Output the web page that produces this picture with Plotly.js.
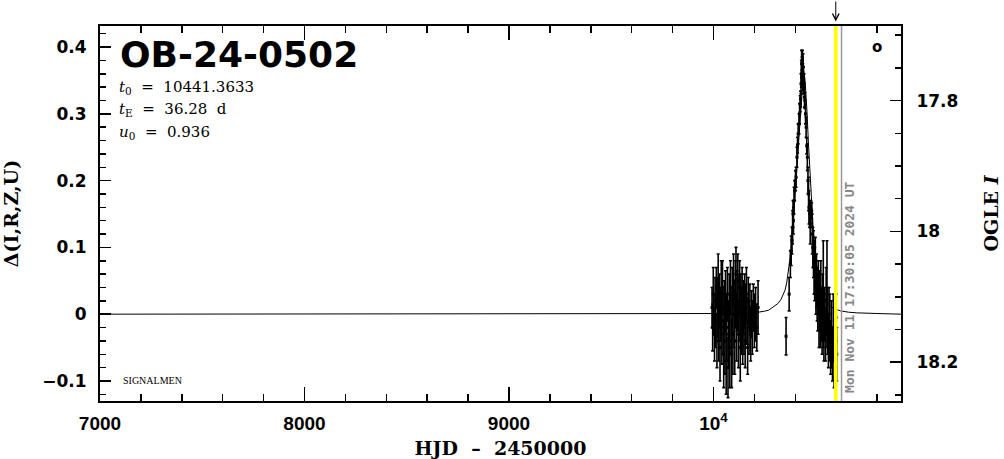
<!DOCTYPE html>
<html>
<head>
<meta charset="utf-8">
<script src="https://cdn.plot.ly/plotly-3.0.1.min.js"></script>
<style>html,body{margin:0;padding:0;background:#fff;}#chart{width:1004px;height:459px;}</style>
</head>
<body>
<div id="chart"></div>
<script>
// ---- data (HJD - 2450000, Delta(I,R,Z,U)) ----
const dataX = [
  9993, 9996, 9999, 10002, 10005, 10008, 10011, 10014, 10017, 10020,
  10023, 10026, 10029, 10032, 10035, 10038, 10041, 10044, 10047, 10050,
  10053, 10056, 10059, 10062, 10065, 10068, 10071, 10074, 10077, 10080,
  10083, 10086, 10089, 10092, 10095, 10098, 10101, 10104, 10107, 10110,
  10113, 10116, 10119, 10122, 10125, 10128, 10131, 10134, 10137, 10140,
  10143, 10146, 10149, 10152, 10155, 10158, 10161, 10164, 10167, 10170,
  10174, 10178, 10182, 10186, 10190, 10195, 10200, 10206, 10212, 10218,
  10355, 10370, 10376, 10380, 10384, 10387, 10389, 10391, 10394, 10397,
  10401, 10404, 10408, 10411, 10414, 10418, 10421, 10424, 10426, 10428,
  10430, 10431, 10433, 10435, 10437, 10438, 10440, 10443, 10445, 10447,
  10450, 10453, 10456, 10459, 10462, 10465, 10467, 10470, 10473, 10476,
  10480, 10483, 10486, 10489, 10492, 10495, 10498, 10501, 10504, 10507,
  10510, 10513, 10516, 10519, 10522, 10525, 10528, 10531, 10534, 10537,
  10540, 10544, 10548, 10551, 10555, 10558, 10562, 10565, 10569, 10573,
  10577, 10582, 10586, 10590, 10594, 10600, 10603
];
const dataY = [
  0.01, -0.02, 0.03, 0.00, -0.03, 0.02, -0.01, 0.04, -0.04, 0.01,
  0.05, -0.02, 0.02, -0.05, 0.00, 0.03, -0.03, 0.04, -0.01, -0.06,
  0.01, -0.04, 0.02, -0.07, -0.02, 0.03, -0.08, -0.03, 0.01, -0.05,
  0.04, -0.01, -0.06, 0.02, -0.03, 0.05, 0.00, -0.04, 0.03, 0.06,
  -0.02, 0.02, 0.05, -0.03, 0.01, 0.04, -0.05, 0.02, -0.01, 0.03,
  -0.03, 0.01, -0.02, 0.02, -0.04, 0.00, 0.03, -0.01, -0.05, 0.02,
  -0.02, 0.01, -0.03, 0.00, -0.02, 0.01, -0.01, 0.00, -0.02, 0.01,
  -0.033, 0.030, 0.075, 0.095, 0.110, 0.130, 0.150, 0.140, 0.170, 0.185,
  0.200, 0.205, 0.235, 0.253, 0.270, 0.285, 0.300, 0.315, 0.322, 0.345,
  0.360, 0.375, 0.365, 0.380, 0.355, 0.370, 0.350, 0.345, 0.325, 0.320,
  0.300, 0.280, 0.252, 0.235, 0.200, 0.180, 0.160, 0.150, 0.135, 0.150,
  0.155, 0.120, 0.100, 0.090, 0.070, 0.060, 0.080, 0.040, 0.050, 0.030,
  0.020, 0.040, 0.000, 0.020, -0.010, 0.030, 0.000, -0.020, 0.010, 0.030,
  -0.020, 0.000, -0.030, 0.020, 0.030, -0.010, -0.040, 0.000, -0.020, -0.050,
  -0.030, -0.060, -0.020, -0.070, -0.050, -0.005, -0.060
];
const dataErr = [
  0.030, 0.035, 0.040, 0.030, 0.040, 0.035, 0.040, 0.030, 0.040, 0.045,
  0.040, 0.050, 0.040, 0.050, 0.040, 0.050, 0.045, 0.040, 0.050, 0.050,
  0.040, 0.050, 0.045, 0.050, 0.050, 0.040, 0.045, 0.050, 0.050, 0.060,
  0.040, 0.050, 0.050, 0.050, 0.060, 0.040, 0.050, 0.050, 0.050, 0.040,
  0.050, 0.045, 0.040, 0.050, 0.050, 0.040, 0.050, 0.040, 0.050, 0.040,
  0.045, 0.040, 0.040, 0.040, 0.040, 0.045, 0.040, 0.035, 0.040, 0.035,
  0.040, 0.035, 0.040, 0.035, 0.040, 0.035, 0.040, 0.040, 0.035, 0.040,
  0.028, 0.025, 0.020, 0.022, 0.020, 0.025, 0.020, 0.020, 0.020, 0.015,
  0.015, 0.015, 0.015, 0.012, 0.015, 0.015, 0.015, 0.012, 0.012, 0.015,
  0.020, 0.020, 0.020, 0.015, 0.020, 0.020, 0.020, 0.015, 0.015, 0.012,
  0.015, 0.015, 0.012, 0.020, 0.020, 0.025, 0.025, 0.020, 0.030, 0.020,
  0.012, 0.030, 0.030, 0.035, 0.040, 0.040, 0.035, 0.040, 0.040, 0.040,
  0.045, 0.040, 0.050, 0.045, 0.040, 0.050, 0.040, 0.040, 0.050, 0.080,
  0.050, 0.040, 0.040, 0.050, 0.080, 0.050, 0.040, 0.040, 0.050, 0.040,
  0.050, 0.040, 0.050, 0.040, 0.045, 0.035, 0.040
];
// ---- model curve ----
const modelX = [7000, 9000, 10000, 10150, 10200, 10230, 10250, 10270, 10285, 10300,
  10315, 10330, 10340, 10350, 10358, 10365, 10372, 10380, 10388, 10395,
  10402, 10410, 10418, 10425, 10430, 10435, 10441, 10448, 10453, 10458,
  10464, 10470, 10475, 10480, 10488, 10495, 10502, 10510, 10520, 10530,
  10540, 10550, 10565, 10580, 10600, 10620, 10660, 10700, 10800, 10917];
const modelY = [0, 0, 0, 0.001, 0.002, 0.003, 0.0045, 0.006, 0.009, 0.012,
  0.016, 0.022, 0.028, 0.036, 0.047, 0.060, 0.078, 0.100, 0.130, 0.160,
  0.190, 0.225, 0.265, 0.300, 0.327, 0.350, 0.365, 0.350, 0.327, 0.300,
  0.258, 0.220, 0.190, 0.160, 0.125, 0.100, 0.078, 0.060, 0.045, 0.035,
  0.027, 0.020, 0.014, 0.010, 0.007, 0.005, 0.003, 0.002, 0.001, 0];
// ---- axes / labels ----
const xTickVals = [7000, 8000, 9000, 10000];
const xTickText = ['7000', '8000', '9000', '10<sup>4</sup>'];
const magTickVals = [17.8, 18.0, 18.2];
const magTickText = ['17.8', '18', '18.2'];
const eventName = 'OB-24-0502';
const t0 = '10441.3633';
const tE = '36.28';
const u0 = '0.936';
const markX = 10598;      // yellow marker line
const nowX = 10626.2;     // current time line
const nowText = 'Mon Nov 11 17:30:05 2024 UT';

const tickFont = {family: 'DejaVu Sans', size: 17, color: '#000', weight: 'bold'};
const infoFont = {family: 'DejaVu Serif', size: 15, color: '#000'};

const traces = [
  {x: modelX, y: modelY, type: 'scatter', mode: 'lines', line: {color: '#000', width: 1}, hoverinfo: 'skip', showlegend: false},
  {x: dataX, y: dataY, type: 'scatter', mode: 'markers',
   marker: {color: '#000', size: 3, symbol: 'square'},
   error_y: {type: 'data', array: dataErr, visible: true, color: '#000', thickness: 1.6, width: 1.5},
   showlegend: false},
  {x: [], y: [], yaxis: 'y2', type: 'scatter', showlegend: false}
];

const layout = {
  width: 1004, height: 459,
  margin: {l: 100, r: 103, t: 26, b: 58, pad: 0},
  paper_bgcolor: '#fff', plot_bgcolor: '#fff',
  showlegend: false,
  xaxis: {
    range: [7000, 10917], tickmode: 'array', tickvals: xTickVals, ticktext: xTickText,
    ticks: 'inside', ticklen: 14, tickwidth: 1.5, tickcolor: '#000',
    minor: {tickmode: 'linear', tick0: 7000, dtick: 200, ticks: 'inside', ticklen: 7, tickwidth: 1.5, tickcolor: '#000'},
    showline: true, linewidth: 2, linecolor: '#000', mirror: 'ticks',
    showgrid: false, zeroline: false, ticklabelstandoff: 4,
    tickfont: {family: 'Liberation Sans', size: 19, color: '#000', weight: 'bold'},
    title: {text: 'HJD  \u2013  2450000', font: {family: 'DejaVu Serif', size: 19, color: '#000', weight: 'bold'}, standoff: 12}
  },
  yaxis: {
    range: [-0.130, 0.4315], tick0: 0, dtick: 0.1,
    ticks: 'inside', ticklen: 11, tickwidth: 1.5, tickcolor: '#000',
    minor: {dtick: 0.02, ticks: 'inside', ticklen: 6, tickwidth: 1.5, tickcolor: '#000'},
    showline: true, linewidth: 2, linecolor: '#000', mirror: false,
    showgrid: false, zeroline: false, ticklabelstandoff: 8,
    tickfont: tickFont,
    title: {text: '\u0394(I,R,Z,U)', font: {family: 'DejaVu Serif', size: 19, color: '#000', weight: 'bold'}, standoff: 19}
  },
  yaxis2: {
    overlaying: 'y', side: 'right', range: [18.2593, 17.686],
    tickmode: 'array', tickvals: magTickVals, ticktext: magTickText,
    ticks: 'inside', ticklen: 11, tickwidth: 1.5, tickcolor: '#000',
    minor: {tickmode: 'linear', tick0: 17.5, dtick: 0.05, ticks: 'inside', ticklen: 6, tickwidth: 1.5, tickcolor: '#000'},
    showline: true, linewidth: 2, linecolor: '#000',
    showgrid: false, zeroline: false, ticklabelstandoff: 10,
    tickfont: tickFont,
    title: {text: 'OGLE <i>I</i>', font: {family: 'DejaVu Serif', size: 19, color: '#000', weight: 'bold'}, standoff: 27}
  },
  shapes: [
    {type: 'line', xref: 'x', yref: 'paper', x0: markX, x1: markX, y0: 0, y1: 1, line: {color: '#ffff00', width: 3.5}, layer: 'above'},
    {type: 'line', xref: 'x', yref: 'paper', x0: nowX, x1: nowX, y0: 0, y1: 1, line: {color: '#999999', width: 1.5}, layer: 'above'}
  ],
  annotations: [
    {xref: 'paper', yref: 'paper', x: 0.022, y: 0.925, xanchor: 'left', yanchor: 'middle', showarrow: false,
     text: eventName, font: {family: 'DejaVu Sans', size: 36, color: '#000', weight: 'bold'}},
    {xref: 'paper', yref: 'paper', x: 0.021, y: 0.837, xanchor: 'left', yanchor: 'middle', showarrow: false,
     text: '<i>t</i><sub>0</sub>  =  ' + t0, font: infoFont},
    {xref: 'paper', yref: 'paper', x: 0.021, y: 0.776, xanchor: 'left', yanchor: 'middle', showarrow: false,
     text: '<i>t</i><sub>E</sub>  =  ' + tE + '  d', font: infoFont},
    {xref: 'paper', yref: 'paper', x: 0.021, y: 0.717, xanchor: 'left', yanchor: 'middle', showarrow: false,
     text: '<i>u</i><sub>0</sub>  =  ' + u0, font: infoFont},
    {xref: 'paper', yref: 'paper', x: 0.026, y: 0.056, xanchor: 'left', yanchor: 'middle', showarrow: false,
     text: 'SIGNALMEN', font: {family: 'Liberation Serif', size: 10, color: '#000'}},
    {xref: 'paper', yref: 'paper', x: 0.970, y: 0.944, xanchor: 'center', yanchor: 'middle', showarrow: false,
     text: 'o', font: {family: 'DejaVu Sans', size: 15, color: '#000', weight: 'bold'}},
    {xref: 'x', yref: 'paper', x: nowX, y: 0.303, xshift: 8, xanchor: 'center', yanchor: 'middle', showarrow: false, textangle: -90,
     text: nowText, font: {family: 'DejaVu Sans Mono', size: 13, color: '#888888', weight: 'bold'}},
    {xref: 'x', yref: 'paper', x: markX, y: 1.012, showarrow: true, ax: 0, ay: -22, axref: 'pixel', ayref: 'pixel',
     arrowhead: 5, arrowsize: 1.3, arrowwidth: 1, arrowcolor: '#000', text: ''}
  ]
};

Plotly.newPlot('chart', traces, layout, {displayModeBar: false, staticPlot: true});
</script>
</body>
</html>
